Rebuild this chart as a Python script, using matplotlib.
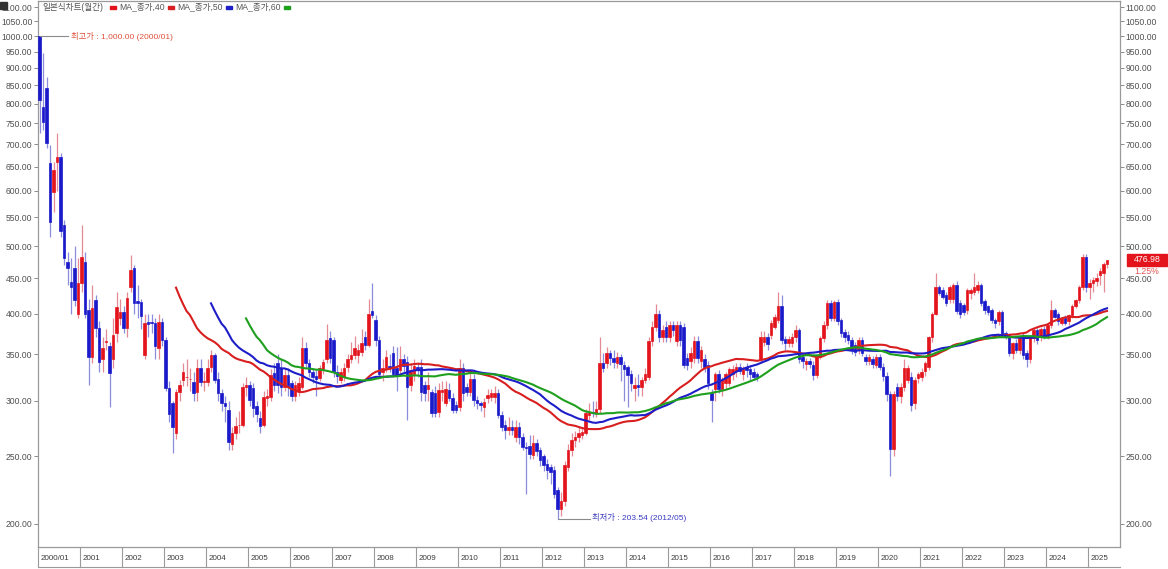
import numpy as np
import pandas as pd
import matplotlib
matplotlib.use("Agg")
import matplotlib.pyplot as plt
from matplotlib.transforms import blended_transform_factory
from matplotlib.ticker import FixedLocator, FixedFormatter, NullLocator
from matplotlib.patches import Rectangle

plt.rcParams['font.family'] = ['Liberation Sans', 'Noto Sans CJK KR', 'DejaVu Sans']

# ---------------- data (monthly candles, 2000/01 .. 2025/06) ----------------
opens = [
    1000, 790, 842, 657, 598, 661, 670, 536, 474, 444, 465, 400,
    443, 474, 405, 347, 419, 382, 344, 364, 360, 344, 375, 394,
    402, 382, 437, 465, 417, 416, 349, 389, 389, 388, 357, 389,
    367, 313, 298, 270, 309, 322, 325, 323, 319, 309, 334, 319,
    319, 336, 349, 323, 308, 298, 291, 260, 270, 277, 277, 314,
    316, 313, 295, 284, 277, 303, 304, 329, 340, 334, 314, 327,
    318, 305, 310, 314, 357, 340, 330, 326, 324, 333, 344, 369,
    367, 330, 322, 325, 336, 344, 349, 349, 353, 371, 361, 403,
    392, 367, 330, 334, 337, 351, 335, 332, 345, 341, 316, 328,
    336, 336, 316, 312, 309, 308, 289, 309, 298, 311, 303, 296,
    294, 335, 314, 309, 323, 301, 298, 294, 303, 304, 304, 308,
    286, 277, 273, 275, 266, 275, 266, 258, 259, 251, 261, 255,
    250, 244, 241, 239, 224, 210, 216, 241, 255, 264, 266, 268,
    270, 286, 289, 288, 292, 340, 340, 352, 346, 340, 347, 338,
    336, 328, 313, 316, 314, 322, 325, 366, 383, 400, 371, 383,
    371, 385, 366, 385, 383, 346, 342, 346, 366, 342, 345, 338,
    308, 312, 328, 312, 318, 318, 328, 331, 336, 328, 336, 333,
    330, 328, 345, 365, 370, 373, 383, 392, 411, 368, 363, 363,
    370, 379, 347, 339, 342, 338, 327, 347, 369, 385, 414, 395,
    416, 392, 377, 373, 367, 361, 355, 367, 347, 342, 345, 338,
    347, 336, 326, 307, 256, 314, 305, 314, 322, 325, 298, 324,
    325, 331, 336, 371, 400, 437, 433, 425, 420, 420, 440, 414,
    412, 405, 428, 430, 433, 440, 417, 410, 405, 392, 390, 402,
    375, 373, 351, 363, 355, 373, 351, 344, 369, 379, 371, 381,
    371, 385, 405, 400, 388, 394, 390, 398, 411, 418, 437, 483,
    437, 442, 445, 455, 457, 471,
]
highs = [
    1000, 945, 873, 698, 660, 726, 680, 545, 490, 480, 500, 480,
    536, 490, 420, 440, 425, 390, 370, 380, 365, 395, 430, 420,
    410, 430, 486, 470, 440, 420, 400, 400, 400, 395, 400, 395,
    370, 320, 300, 312, 322, 340, 345, 335, 330, 345, 345, 330,
    345, 355, 352, 330, 312, 305, 300, 275, 285, 290, 318, 325,
    320, 318, 300, 290, 310, 312, 333, 340, 350, 345, 335, 335,
    322, 320, 325, 371, 365, 345, 335, 332, 338, 345, 387, 378,
    370, 338, 335, 340, 350, 365, 372, 362, 380, 378, 420, 443,
    398, 372, 345, 355, 350, 360, 358, 360, 350, 348, 340, 345,
    340, 345, 320, 330, 312, 315, 318, 320, 320, 318, 308, 300,
    345, 340, 318, 330, 328, 305, 300, 303, 312, 312, 315, 312,
    290, 282, 285, 282, 282, 280, 270, 262, 268, 268, 265, 258,
    252, 248, 244, 242, 226, 222, 246, 260, 270, 272, 275, 275,
    292, 298, 300, 300, 370, 352, 358, 355, 355, 353, 350, 342,
    338, 332, 325, 328, 325, 335, 370, 390, 413, 405, 385, 390,
    390, 390, 390, 390, 388, 352, 358, 372, 372, 360, 350, 342,
    312, 330, 332, 325, 330, 336, 338, 340, 340, 337, 340, 338,
    335, 330, 378, 378, 375, 392, 400, 430, 425, 372, 372, 375,
    385, 382, 352, 346, 346, 342, 350, 372, 390, 418, 418, 418,
    420, 395, 380, 378, 370, 365, 370, 370, 350, 350, 348, 350,
    350, 340, 330, 310, 310, 318, 318, 344, 338, 330, 325, 330,
    335, 342, 372, 402, 457, 440, 437, 430, 440, 443, 445, 418,
    415, 435, 436, 458, 445, 442, 420, 412, 408, 395, 405, 405,
    378, 376, 365, 368, 372, 376, 355, 373, 382, 382, 383, 384,
    388, 419, 408, 402, 396, 398, 400, 413, 420, 440, 487, 487,
    448, 452, 458, 465, 475, 478,
]
lows = [
    726, 733, 690, 515, 560, 600, 515, 470, 440, 400, 410, 395,
    430, 395, 316, 340, 370, 330, 330, 355, 294, 335, 365, 385,
    375, 370, 430, 400, 395, 380, 345, 370, 375, 345, 345, 360,
    310, 280, 253, 265, 300, 315, 315, 310, 300, 300, 315, 310,
    315, 330, 318, 300, 290, 280, 255, 255, 265, 270, 275, 305,
    295, 285, 280, 270, 275, 295, 300, 310, 308, 305, 310, 305,
    300, 300, 305, 312, 335, 325, 318, 305, 320, 328, 340, 340,
    325, 318, 318, 320, 330, 340, 345, 340, 348, 355, 358, 395,
    360, 325, 320, 330, 330, 325, 310, 328, 330, 282, 310, 320,
    325, 300, 300, 300, 285, 285, 285, 300, 295, 300, 288, 288,
    290, 300, 305, 305, 295, 292, 290, 285, 298, 300, 298, 284,
    272, 265, 268, 268, 262, 260, 255, 221, 248, 248, 250, 242,
    238, 232, 228, 218, 203.54, 205, 212, 238, 250, 258, 262, 265,
    268, 282, 285, 285, 288, 330, 335, 338, 335, 335, 320, 300,
    294, 310, 300, 305, 305, 318, 322, 360, 378, 365, 365, 365,
    365, 372, 360, 360, 335, 332, 335, 340, 340, 335, 330, 312,
    280, 300, 308, 305, 312, 315, 322, 325, 328, 322, 325, 322,
    322, 320, 340, 360, 355, 368, 380, 388, 362, 355, 358, 358,
    365, 340, 335, 332, 334, 322, 324, 345, 365, 380, 390, 390,
    385, 370, 365, 362, 350, 348, 350, 348, 338, 338, 335, 335,
    332, 320, 300, 234, 250, 300, 298, 310, 318, 290, 292, 318,
    320, 326, 332, 365, 398, 425, 420, 410, 415, 415, 400, 395,
    398, 400, 420, 425, 428, 410, 400, 398, 388, 382, 385, 370,
    368, 348, 345, 352, 350, 345, 336, 340, 365, 362, 366, 368,
    368, 382, 394, 385, 385, 386, 386, 395, 408, 415, 433, 430,
    420, 430, 438, 440, 430, 465,
]
closes = [
    810, 753, 703, 541, 643, 670, 526, 481, 465, 437, 419, 443,
    483, 400, 347, 408, 382, 341, 357, 366, 329, 373, 409, 402,
    382, 421, 462, 414, 414, 397, 388, 387, 388, 360, 389, 367,
    313, 287, 275, 309, 316, 330, 325, 323, 308, 334, 319, 320,
    334, 349, 322, 308, 298, 295, 262, 270, 276, 277, 314, 316,
    301, 293, 287, 276, 304, 305, 327, 316, 316, 314, 327, 314,
    305, 316, 318, 357, 340, 330, 325, 323, 334, 341, 367, 346,
    330, 326, 330, 335, 344, 349, 357, 355, 363, 361, 400, 398,
    367, 328, 335, 347, 335, 328, 327, 345, 337, 314, 332, 337,
    332, 309, 308, 316, 288, 288, 311, 311, 312, 303, 291, 291,
    335, 308, 309, 323, 301, 298, 296, 299, 306, 308, 308, 286,
    275, 273, 275, 273, 275, 266, 258, 257, 252, 261, 254, 247,
    243, 239, 237, 221, 210, 216, 243, 255, 264, 266, 270, 271,
    288, 289, 288, 292, 340, 335, 352, 346, 341, 347, 339, 333,
    327, 318, 316, 314, 322, 328, 366, 383, 400, 371, 379, 371,
    385, 379, 385, 367, 338, 338, 351, 366, 346, 355, 336, 318,
    301, 328, 312, 322, 328, 333, 333, 336, 331, 333, 332, 328,
    325, 325, 371, 371, 362, 388, 396, 411, 367, 363, 368, 370,
    379, 344, 342, 342, 339, 327, 347, 369, 385, 414, 395, 416,
    390, 375, 370, 367, 355, 353, 367, 351, 342, 347, 339, 347,
    336, 326, 307, 256, 307, 305, 314, 334, 334, 296, 322, 328,
    330, 340, 371, 400, 437, 428, 423, 414, 437, 440, 404, 400,
    402, 433, 433, 437, 440, 414, 405, 402, 392, 388, 402, 373,
    371, 351, 363, 355, 369, 349, 344, 371, 379, 367, 381, 371,
    385, 405, 396, 390, 394, 388, 398, 411, 418, 437, 483, 437,
    443, 447, 450, 460, 471, 476.98,
]
ma_windows = [40, 50, 60]
ma_labels = ["MA_종가,40", "MA_종가,50", "MA_종가,60"]
ma_colors = ["#d81e1e", "#1e1ec8", "#1ea01e"]
year_labels = ["2000/01"] + [str(y) for y in range(2001, 2026)]
y_ticks = list(range(200, 1101, 50))
title_text = "일본식차트(월간)"
max_text = "최고가 : 1,000.00 (2000/01)"
min_text = "최저가 : 203.54 (2012/05)"
last_text = "476.98"
chg_text = "1.25%"

# ---------------- figure ----------------
W, H = 1168, 569
fig = plt.figure(figsize=(W / 100, H / 100), dpi=100)
ax_l, ax_r, ax_t, ax_b = 38, 1120, 1, 547
ax = fig.add_axes([ax_l / W, (H - ax_b) / H, (ax_r - ax_l) / W, (ax_b - ax_t) / H])

n = len(closes)
x = np.arange(n)
O = np.array(opens, float); C = np.array(closes, float)
Hh = np.array(highs, float); L = np.array(lows, float)
up = C >= O
RED, BLUE = "#e3141c", "#1a1acb"
body_col = np.where(up, RED, BLUE)
wick_col = np.where(up, "#e58a94", "#8c8cdc")

ax.set_yscale("log")
ax.set_ylim(185.3, 1122.5)
ax.set_xlim(-0.43, (ax_r - 39.5) / 3.5)

ax.vlines(x, L, Hh, colors=wick_col, lw=0.9, zorder=2)
bottoms = np.minimum(O, C)
heights = np.maximum(np.abs(C - O), 0.01)
ax.bar(x, heights, bottom=bottoms, width=0.72, color=body_col,
       edgecolor=body_col, linewidth=0.5, zorder=3)

s = pd.Series(C)
for w, col in zip(ma_windows, ma_colors):
    ax.plot(x, s.rolling(w).mean(), color=col, lw=1.5, zorder=4)

# y axis on both sides
ax.yaxis.set_major_locator(FixedLocator(y_ticks))
ax.yaxis.set_major_formatter(FixedFormatter([f"{v:.2f}" for v in y_ticks]))
ax.yaxis.set_minor_locator(NullLocator())
ax.tick_params(axis="y", which="both", left=True, right=True, labelleft=True,
               labelright=True, direction="out", length=3, width=0.6,
               color="#777777", pad=1, labelsize=6.2, labelcolor="#505050")
ax.set_xticks([])
for sp in ax.spines.values():
    sp.set_color("#9a9a9a"); sp.set_linewidth(0.9)

# x band with year labels and separators
tr = blended_transform_factory(ax.transData, ax.transAxes)
band = 20 / (ax_b - ax_t)
for k, lab in enumerate(year_labels):
    xs = 12 * k - 0.43
    ax.plot([xs, xs], [0, -band], transform=tr, color="#9a9a9a", lw=0.8, clip_on=False)
    ax.text(xs + 0.7, -band * 0.55, lab, transform=tr, fontsize=5.8,
            color="#3c3c3c", ha="left", va="center", clip_on=False)
ax.plot([-0.43, (ax_r - 39.5) / 3.5], [-band, -band], transform=tr,
        color="#9a9a9a", lw=0.8, clip_on=False)

# highest / lowest annotations
imax = int(np.argmax(Hh)); imin = int(np.argmin(L))
ax.plot([imax, imax + 8], [Hh[imax]] * 2, color="#8a8a8a", lw=0.8, zorder=5)
ax.text(imax + 9, Hh[imax], max_text, fontsize=6.0, color="#e0503a",
        ha="left", va="center", zorder=5)
ax.plot([imin, imin + 9.3], [L[imin]] * 2, color="#8a8a8a", lw=0.8, zorder=5)
ax.text(imin + 9.8, L[imin] * 1.005, min_text, fontsize=6.0, color="#3a3ac0",
        ha="left", va="center", zorder=5)

# legend line at the top
def fx(px):
    return px / W
def fy(py):
    return 1 - py / H
fig.text(fx(42), fy(7), title_text, fontsize=6.2, color="#555555", va="center", ha="left")
items = [(110, RED), (119, None), (168, ma_colors[0]), (177, None), (226, ma_colors[1]),
         (235, None), (284, ma_colors[2])]
labs = iter(ma_labels)
for px, col in items:
    if col is None:
        fig.text(fx(px), fy(7), next(labs), fontsize=6.2, color="#555555", va="center", ha="left")
    else:
        fig.patches.append(Rectangle((fx(px), fy(8.5)), 6 / W, 3 / H, transform=fig.transFigure,
                                     color=col, figure=fig))

# top-left small icon
fig.patches.append(Rectangle((fx(0), fy(9)), 7 / W, 7 / H, transform=fig.transFigure,
                             color="#333333", figure=fig))

# last price box
fig.patches.append(Rectangle((fx(1127), fy(266)), 40 / W, 12 / H, transform=fig.transFigure,
                             color="#e3141c", figure=fig))
fig.text(fx(1147), fy(260), last_text, fontsize=6.3, color="white", ha="center", va="center")
fig.text(fx(1147), fy(271), chg_text, fontsize=6.3, color="#e05050", ha="center", va="center")

fig.savefig("out.png", dpi=100)
